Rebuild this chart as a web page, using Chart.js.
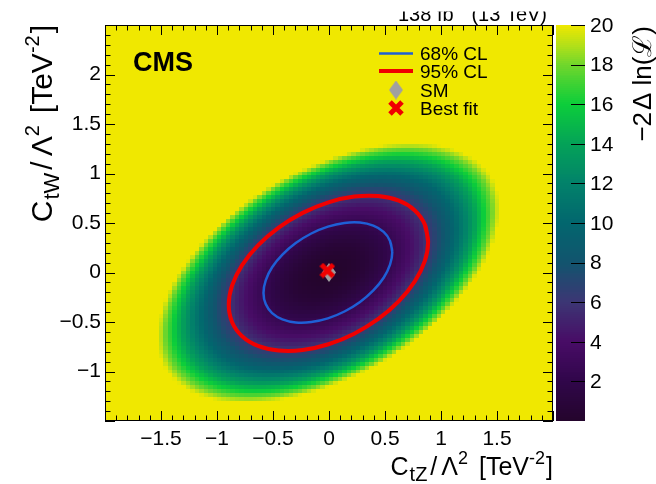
<!DOCTYPE html>
<html>
<head>
<meta charset="utf-8">
<script src="https://cdn.jsdelivr.net/npm/chart.js@4.4.1/dist/chart.umd.min.js"></script>
<style>
  html, body { margin: 0; padding: 0; background: #fff; }
</style>
</head>
<body>
<canvas id="myChart" width="656" height="484"></canvas>
<script>
// best fit and SM points (C_tZ, C_tW)
const bestFit = [-0.015, 0.02];
const smPoint = [0, 0];

// parameters of the -2 dlnL surface
const fitCentre = [-0.005, -0.005];
const fitAngle = 36.4;          // degrees, major axis
const fitSigmaMajor = 0.409;
const fitSigmaMinor = 0.2605;
const steepMajor = 0.008;       // surface rises faster than a parabola far out
const steepMinor = 0.04;
const zMax = 20;

// 68% CL contour (C_tZ, C_tW)
const cl68X = [0.565, 0.545, 0.488, 0.396, 0.277, 0.138, -0.010, -0.158, -0.297, -0.416, -0.508, -0.565,
               -0.585, -0.565, -0.508, -0.416, -0.297, -0.158, -0.010, 0.138, 0.277, 0.396, 0.488, 0.545];
const cl68Y = [0.206, 0.319, 0.410, 0.473, 0.504, 0.500, 0.463, 0.394, 0.298, 0.181, 0.053, -0.079,
               -0.206, -0.319, -0.410, -0.473, -0.504, -0.500, -0.463, -0.394, -0.298, -0.181, -0.053, 0.079];

// 95% CL contour
const cl95X = [0.885, 0.855, 0.766, 0.624, 0.440, 0.225, -0.005, -0.235, -0.450, -0.634, -0.776, -0.865,
               -0.895, -0.865, -0.776, -0.634, -0.450, -0.235, -0.005, 0.225, 0.440, 0.624, 0.766, 0.855];
const cl95Y = [0.311, 0.486, 0.627, 0.725, 0.772, 0.767, 0.709, 0.602, 0.453, 0.273, 0.074, -0.131,
               -0.327, -0.502, -0.643, -0.741, -0.788, -0.783, -0.725, -0.618, -0.469, -0.289, -0.090, 0.115];

const zTicks = [2, 4, 6, 8, 10, 12, 14, 16, 18, 20];

// colour palette stops
const paletteStops = [0, 2, 4, 6, 8, 10, 12, 14, 16, 18, 19, 20];
const paletteRGB = [[36, 5, 44], [48, 6, 74], [72, 12, 102], [60, 54, 116], [18, 84, 110], [2, 102, 110],
                    [2, 130, 106], [4, 162, 88], [12, 206, 58], [112, 214, 44], [180, 224, 24], [240, 232, 0]];

const FONT = '"Liberation Sans", Arial, Helvetica, sans-serif';

function paletteColor(v) {
    if (v >= zMax) v = zMax;
    if (v <= 0) v = 0;
    let i = 0;
    while (i < paletteStops.length - 2 && v > paletteStops[i + 1]) i++;
    const f = (v - paletteStops[i]) / (paletteStops[i + 1] - paletteStops[i]);
    const a = paletteRGB[i], b = paletteRGB[i + 1];
    const c = a.map((q, k) => Math.round(q + (b[k] - q) * f));
    return `rgb(${c[0]},${c[1]},${c[2]})`;
}

function nll(cx, cy) {
    const t = fitAngle * Math.PI / 180;
    const dx = cx - fitCentre[0], dy = cy - fitCentre[1];
    const u = (dx * Math.cos(t) + dy * Math.sin(t)) / fitSigmaMajor;
    const w = (-dx * Math.sin(t) + dy * Math.cos(t)) / fitSigmaMinor;
    const q = u * u + w * w;
    if (q < 1e-9) return 0;
    const extra = Math.max(0, q - 4) ** 2;
    return q + extra * (steepMajor * u * u + steepMinor * w * w) / q;
}

function toPoints(xs, ys) {
    const pts = xs.map((x, i) => ({ x: x, y: ys[i] }));
    // close the curve
    pts.push(pts[0], pts[1]);
    return pts;
}

function fmt(v) {
    return String(Math.round(v * 10) / 10).replace('-', '\u2212');
}

// marker images
const diamondImg = document.createElement('canvas');
diamondImg.width = 14; diamondImg.height = 19;
(function () {
    const c = diamondImg.getContext('2d');
    c.fillStyle = '#a0a0a0';
    c.beginPath();
    c.moveTo(7, 0); c.lineTo(14, 9.5); c.lineTo(7, 19); c.lineTo(0, 9.5);
    c.closePath(); c.fill();
})();

const crossImg = document.createElement('canvas');
crossImg.width = 16; crossImg.height = 16;
(function () {
    const c = crossImg.getContext('2d');
    c.strokeStyle = '#f00000';
    c.lineWidth = 5;
    c.beginPath();
    c.moveTo(2, 2); c.lineTo(14, 14);
    c.moveTo(14, 2); c.lineTo(2, 14);
    c.stroke();
})();

// draw text made of pieces: [text, size, dy, gapAfter]
function drawRich(ctx, parts, x, y, align) {
    let total = 0;
    const widths = parts.map(p => {
        ctx.font = `${p[1]}px ${FONT}`;
        const w = ctx.measureText(p[0]).width + (p[3] || 0);
        total += w;
        return w;
    });
    let cx = align === 'right' ? x - total : x;
    ctx.textAlign = 'left';
    ctx.textBaseline = 'alphabetic';
    parts.forEach((p, i) => {
        ctx.font = `${p[1]}px ${FONT}`;
        ctx.fillText(p[0], cx, y + p[2]);
        cx += widths[i];
    });
}

const heatmapPlugin = {
    id: 'heatmap',
    beforeDatasetsDraw(chart) {
        const { ctx, chartArea, scales: { x, y } } = chart;
        const nx = 100, ny = 100;
        const sx = (x.max - x.min) / nx, sy = (y.max - y.min) / ny;
        ctx.save();
        ctx.beginPath();
        ctx.rect(chartArea.left, chartArea.top, chartArea.right - chartArea.left, chartArea.bottom - chartArea.top);
        ctx.clip();
        for (let i = 0; i < nx; i++) {
            const x0 = Math.round(x.getPixelForValue(x.min + i * sx));
            const x1 = Math.round(x.getPixelForValue(x.min + (i + 1) * sx));
            for (let j = 0; j < ny; j++) {
                const y0 = Math.round(y.getPixelForValue(y.min + j * sy));
                const y1 = Math.round(y.getPixelForValue(y.min + (j + 1) * sy));
                ctx.fillStyle = paletteColor(nll(x.min + (i + 0.5) * sx, y.min + (j + 0.5) * sy));
                ctx.fillRect(x0, y1, x1 - x0, y0 - y1);
            }
        }
        ctx.restore();
    },
    afterDatasetsDraw(chart) {
        const { ctx, chartArea: { left, right, top, bottom }, scales: { x, y } } = chart;
        ctx.save();
        ctx.strokeStyle = '#000';
        ctx.lineWidth = 1;
        ctx.beginPath();
        for (let k = -20; k <= 20; k++) {
            const px = Math.round(x.getPixelForValue(k / 10)) + 0.5;
            const len = k % 5 === 0 ? 10 : 5.5;
            ctx.moveTo(px, bottom); ctx.lineTo(px, bottom - len);
            ctx.moveTo(px, top); ctx.lineTo(px, top + len);
        }
        for (let k = -15; k <= 25; k++) {
            const py = Math.round(y.getPixelForValue(k / 10)) + 0.5;
            const len = k % 5 === 0 ? 10 : 5.5;
            ctx.moveTo(left, py); ctx.lineTo(left + len, py);
            ctx.moveTo(right, py); ctx.lineTo(right - len, py);
        }
        ctx.stroke();
        ctx.strokeRect(left + 0.5, top + 0.5, right - left - 1, bottom - top - 1);
        ctx.restore();
    },
    afterDraw(chart) {
        const { ctx, chartArea: { right, top }, scales: { z } } = chart;
        ctx.save();
        ctx.fillStyle = '#000';

        // colour bar
        const cbLeft = right + 3, cbRight = right + 32;
        const n = 200;
        for (let k = 0; k < n; k++) {
            const v0 = k * zMax / n, v1 = (k + 1) * zMax / n;
            const p0 = Math.round(z.getPixelForValue(v0)), p1 = Math.round(z.getPixelForValue(v1));
            ctx.fillStyle = paletteColor((v0 + v1) / 2);
            ctx.fillRect(cbLeft, p1, cbRight - cbLeft, p0 - p1);
        }
        ctx.strokeStyle = '#000';
        ctx.lineWidth = 1;
        ctx.beginPath();
        zTicks.forEach(v => {
            const py = Math.round(z.getPixelForValue(v)) + 0.5;
            ctx.moveTo(cbRight, py); ctx.lineTo(cbRight - 14, py);
        });
        ctx.stroke();
        ctx.fillStyle = '#000';
        ctx.font = `21px ${FONT}`;
        ctx.textAlign = 'left';
        ctx.textBaseline = 'middle';
        zTicks.forEach(v => ctx.fillText(String(v), cbRight + 5, z.getPixelForValue(v) + 1));

        // colour bar title
        ctx.save();
        ctx.translate(651, top + 1);
        ctx.rotate(-Math.PI / 2);
        drawRich(ctx, [['\u22122', 26, 0, 2], ['\u0394', 26, 0, 7], ['ln(', 26, 0], ['\u2112', 26, 0], [')', 26, 0]], 0, 0, 'right');
        ctx.restore();

        // axis titles
        drawRich(ctx, [['C', 25, 0, 1], ['tZ', 20, 6, 3], ['/', 25, 0, 4], ['\u039B', 25, 0], ['2', 18, -11, 11],
                       ['[TeV', 25, 0], ['-2', 18, -11, 1], [']', 25, 0]], right, 475, 'right');
        ctx.save();
        ctx.translate(52, top);
        ctx.rotate(-Math.PI / 2);
        drawRich(ctx, [['C', 30, 0, 1], ['tW', 22, 7, 3], ['/', 30, 0, 5], ['\u039B', 30, 0], ['2', 20, -13, 12],
                       ['[TeV', 30, 0], ['-2', 20, -13, 2], [']', 30, 0]], 0, 0, 'right');
        ctx.restore();

        // CMS label
        ctx.font = `bold 27px ${FONT}`;
        ctx.textAlign = 'left';
        ctx.textBaseline = 'alphabetic';
        ctx.fillText('CMS', 133, 71);

        // luminosity label, clipped at the top like the original
        ctx.save();
        ctx.beginPath();
        ctx.rect(0, 11.5, 656, 30);
        ctx.clip();
        drawRich(ctx, [['138 fb', 20, 0], ['\u22121', 13, -13, 3], ['(13 TeV)', 20, 0]], 547, 20.5, 'right');
        ctx.restore();

        // legend
        ctx.lineWidth = 2.5;
        ctx.strokeStyle = '#1f5fd6';
        ctx.beginPath(); ctx.moveTo(379, 53.5); ctx.lineTo(413, 53.5); ctx.stroke();
        ctx.lineWidth = 4;
        ctx.strokeStyle = '#f00000';
        ctx.beginPath(); ctx.moveTo(379, 71); ctx.lineTo(413, 71); ctx.stroke();
        ctx.drawImage(diamondImg, 396 - 7, 90 - 9.5);
        ctx.drawImage(crossImg, 396 - 8, 108 - 8);
        ctx.font = `19px ${FONT}`;
        ctx.fillStyle = '#000';
        ctx.textBaseline = 'alphabetic';
        ['68% CL', '95% CL', 'SM', 'Best fit'].forEach((t, i) => {
            ctx.fillText(t, 420, [60, 78, 97, 115][i]);
        });
        ctx.restore();
    }
};

const ctx = document.getElementById('myChart').getContext('2d');
new Chart(ctx, {
    type: 'scatter',
    data: {
        datasets: [
            {
                label: 'Best fit',
                data: [{ x: bestFit[0], y: bestFit[1] }],
                pointStyle: crossImg,
                pointRadius: 8
            },
            {
                label: 'SM',
                data: [{ x: smPoint[0], y: smPoint[1] }],
                pointStyle: diamondImg,
                pointRadius: 8
            },
            {
                label: '68% CL',
                data: toPoints(cl68X, cl68Y),
                showLine: true,
                borderColor: '#1f5fd6',
                borderWidth: 2.5,
                pointRadius: 0,
                tension: 0.35,
                fill: false
            },
            {
                label: '95% CL',
                data: toPoints(cl95X, cl95Y),
                showLine: true,
                borderColor: '#f00000',
                borderWidth: 4,
                pointRadius: 0,
                tension: 0.35,
                fill: false
            }
        ]
    },
    options: {
        responsive: false,
        animation: false,
        devicePixelRatio: 1,
        layout: { padding: { left: 0, top: 25, right: 103, bottom: 0 } },
        plugins: {
            legend: { display: false },
            tooltip: { enabled: false }
        },
        scales: {
            x: {
                type: 'linear',
                min: -2,
                max: 2,
                grid: { display: false, drawTicks: false },
                border: { display: false },
                ticks: {
                    stepSize: 0.5,
                    padding: 6,
                    color: '#000',
                    font: { family: FONT, size: 21 },
                    maxRotation: 0,
                    autoSkip: false,
                    callback: v => (Math.abs(v) < 1.75 ? fmt(v) : '')
                },
                afterFit: s => { s.height = 63; }
            },
            y: {
                type: 'linear',
                min: -1.5,
                max: 2.5,
                grid: { display: false, drawTicks: false },
                border: { display: false },
                ticks: {
                    stepSize: 0.5,
                    padding: 4,
                    color: '#000',
                    font: { family: FONT, size: 21 },
                    autoSkip: false,
                    callback: v => (v > -1.25 && v < 2.25 ? fmt(v) : '')
                },
                afterFit: s => { s.width = 105; }
            },
            z: {
                type: 'linear',
                axis: 'y',
                display: false,
                min: 0,
                max: zMax
            }
        }
    },
    plugins: [heatmapPlugin]
});
</script>
</body>
</html>
